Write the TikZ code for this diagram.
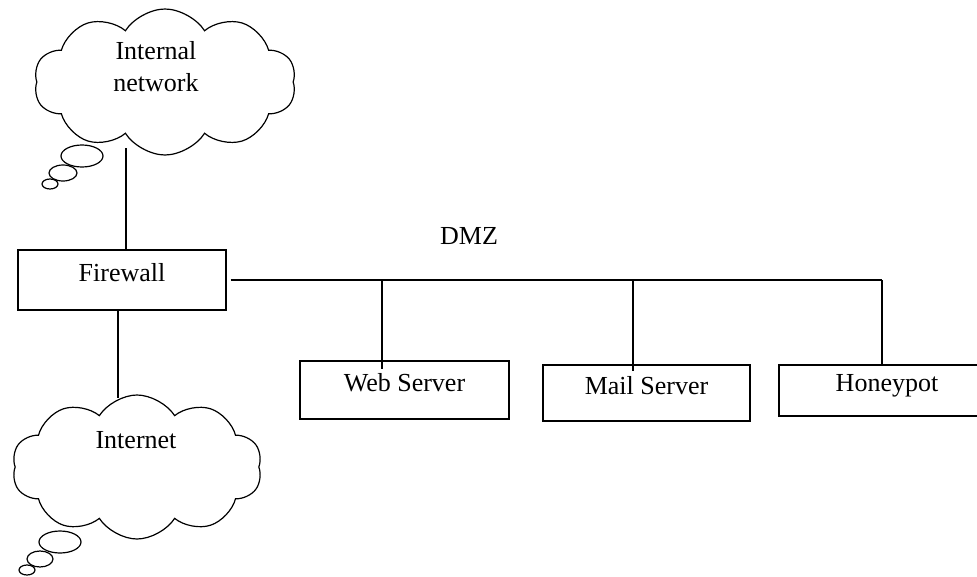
\documentclass[tikz,border=0pt]{standalone}
\usepackage{fontspec}
\setmainfont{Liberation Serif}
\usetikzlibrary{shapes.symbols}

\tikzset{
  box/.style={draw, line width=1.2pt, inner sep=0pt,
    text height=12pt, text depth=10pt},
  netcloud/.style={cloud, draw, line width=1.2pt, cloud puffs=10,
    cloud puff arc=115, inner sep=0pt},
  link/.style={line width=1.2pt},
  bubble/.style={line width=1.2pt}
}

\begin{document}
\begin{tikzpicture}[x=1pt, y=-1pt, font=\fontsize{26}{30}\selectfont]
        \useasboundingbox (0,0) rectangle (977,576);
        % clouds
        \node[netcloud, minimum width=262pt, minimum height=146pt](intnet) at (165, 82) {};
        \node(intnettext) at (156, 67) [align=center, font=\fontsize{26}{32}\selectfont] {Internal\\network};
        \node[netcloud, minimum width=250pt, minimum height=144pt](inet) at (137, 467) {};
        \node(inettext) at (136, 440) {Internet};
        % thought bubbles
        \draw[bubble] (82, 156) ellipse (21 and 11);
        \draw[bubble] (63, 173) ellipse (14 and 8);
        \draw[bubble] (50, 184) ellipse (8 and 5);
        \draw[bubble] (60, 542) ellipse (21 and 11);
        \draw[bubble] (40, 559) ellipse (13 and 8);
        \draw[bubble] (27, 570) ellipse (8 and 5);
        % boxes
        \node[box, minimum width=208pt, minimum height=60pt](fw) at (122, 280) {Firewall};
        \node[box, minimum width=209pt, minimum height=58pt](web) at (404.5, 390) {Web Server};
        \node[box, minimum width=207pt, minimum height=56pt](mail) at (646.5, 393) {Mail Server};
        \node[box, minimum width=216pt, minimum height=51pt, text width=204pt, align=center](hpot) at (887, 390.5) {Honeypot};
        \node(dmz) at (469, 236) {DMZ};
        % bus
        \coordinate(tapweb) at (382, 280);
        \coordinate(tapmail) at (633, 280);
        \coordinate(tapend) at (882, 280);
        \draw[link] ([xshift=4pt]fw.east) -- (tapend);
        \draw[link] (tapweb) -- ([yshift=-9pt]tapweb |- web.north);
        \draw[link] (tapmail) -- ([yshift=-7pt]tapmail |- mail.north);
        \draw[link] (tapend) -- (tapend |- hpot.north);
        \draw[link] (fw.north -| 126, 0) -- (126, 148);
        \draw[link] (fw.south -| 118, 0) -- (118, 398);
        \end{tikzpicture}
\end{document}
